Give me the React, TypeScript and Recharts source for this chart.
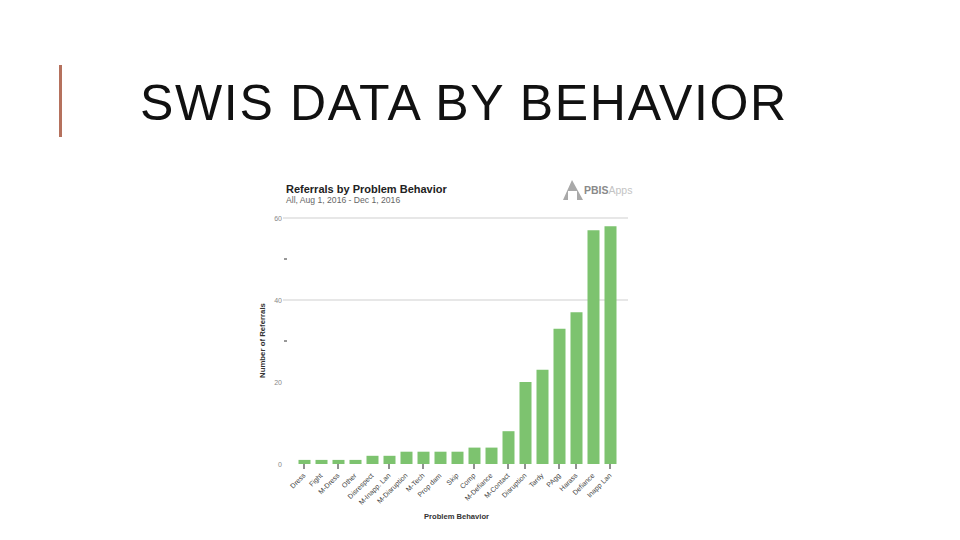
import { BarChart, Bar, XAxis, YAxis, CartesianGrid } from "recharts";

const behaviors = [
  "Dress", "Fight", "M-Dress", "Other", "Disrespect", "M-Inapp. Lan", "M-Disruption",
  "M-Tech", "Prop dam", "Skip", "Comp", "M-Defiance", "M-Contact", "Disruption",
  "Tardy", "PAgg", "Harass", "Defiance", "Inapp Lan",
];
const referrals = [1, 1, 1, 1, 2, 2, 3, 3, 3, 3, 4, 4, 8, 20, 23, 33, 37, 57, 58];
const yTicks = [0, 10, 20, 30, 40, 50, 60];
const yLabelled = [0, 20, 40, 60];
const yMarked = [30, 50];
const gridValues = [40, 60];
const markedBars = ["Dress", "M-Dress", "M-Inapp. Lan", "M-Tech", "Comp", "M-Contact", "Disruption", "PAgg", "Harass", "Inapp Lan"];

const data = behaviors.map((name, i) => ({ name, value: referrals[i] }));

function BehaviorTick({ x, y, payload }: any) {
  return (
    <g>
      {markedBars.includes(payload.value) && <line x1={x} x2={x} y1={y - 6} y2={y - 1} stroke="#222" />}
      <text
        x={x + 2}
        y={y + 6}
        textAnchor="end"
        fontSize={7}
        fill="#444"
        transform={`rotate(-45 ${x + 2} ${y + 6})`}
      >
        {payload.value}
      </text>
    </g>
  );
}

function CountTick({ x, y, payload }: any) {
  return (
    <g>
      {yMarked.includes(payload.value) && <line x1={x + 9} x2={x + 12} y1={y} y2={y} stroke="#333" />}
      {yLabelled.includes(payload.value) && (
        <text x={x + 7} y={y + 2.5} textAnchor="end" fontSize={7} fill="#888">
          {payload.value}
        </text>
      )}
    </g>
  );
}

export default function App() {
  return (
    <div
      style={{
        position: "fixed",
        left: 0,
        top: 0,
        width: 960,
        height: 540,
        background: "#fff",
        fontFamily: "'Liberation Sans', sans-serif",
        overflow: "hidden",
      }}
    >
      <div style={{ position: "absolute", left: 59, top: 65, width: 3, height: 72, background: "#b5715d" }} />
      <div
        style={{
          position: "absolute",
          left: 140,
          top: 74,
          fontSize: 50,
          lineHeight: "58px",
          letterSpacing: 1.65,
          color: "#111",
          whiteSpace: "nowrap",
        }}
      >
        SWIS DATA BY BEHAVIOR
      </div>

      <div style={{ position: "absolute", left: 286, top: 183, fontSize: 11, lineHeight: "13px", fontWeight: 700, color: "#222", whiteSpace: "nowrap" }}>
        Referrals by Problem Behavior
      </div>
      <div style={{ position: "absolute", left: 286, top: 195, fontSize: 8.6, lineHeight: "11px", color: "#666", whiteSpace: "nowrap" }}>
        All, Aug 1, 2016 - Dec 1, 2016
      </div>

      <svg style={{ position: "absolute", left: 562, top: 180 }} width={22} height={21}>
        <path d="M10 0 L21 20 L15 20 L15 11 L6 11 L6 20 L1 20 Z" fill="#a9a9a9" />
      </svg>
      <div style={{ position: "absolute", left: 584, top: 184, fontSize: 10.5, lineHeight: "13px", color: "#8a8a8a", whiteSpace: "nowrap" }}>
        <b>PBIS</b>
        <span style={{ color: "#c4c4c4" }}>Apps</span>
      </div>

      <div style={{ position: "absolute", left: 250, top: 175 }}>
        <BarChart width={390} height={365} data={data} margin={{ top: 43, right: 12, bottom: 0, left: 0 }}>
          <CartesianGrid vertical={false} horizontalValues={gridValues} stroke="#cfcfcf" />
          <XAxis
            dataKey="name"
            interval={0}
            height={76}
            padding={{ left: 12.5, right: 9.5 }}
            axisLine={false}
            tickLine={false}
            tick={<BehaviorTick />}
            tickMargin={0}
            label={{ value: "Problem Behavior", position: "insideBottom", offset: 21, dx: 1, fontSize: 7.6, fontWeight: 700, fill: "#333" }}
          />
          <YAxis
            domain={[0, 60]}
            ticks={yTicks}
            width={33}
            axisLine={false}
            tickLine={false}
            tick={<CountTick />}
            label={{ value: "Number of Referrals", angle: -90, position: "insideLeft", offset: 12, dy: 37, fontSize: 7.8, fontWeight: 700, fill: "#333" }}
          />
          <Bar dataKey="value" fill="#7dc36f" barSize={12} isAnimationActive={false} />
        </BarChart>
      </div>
    </div>
  );
}
